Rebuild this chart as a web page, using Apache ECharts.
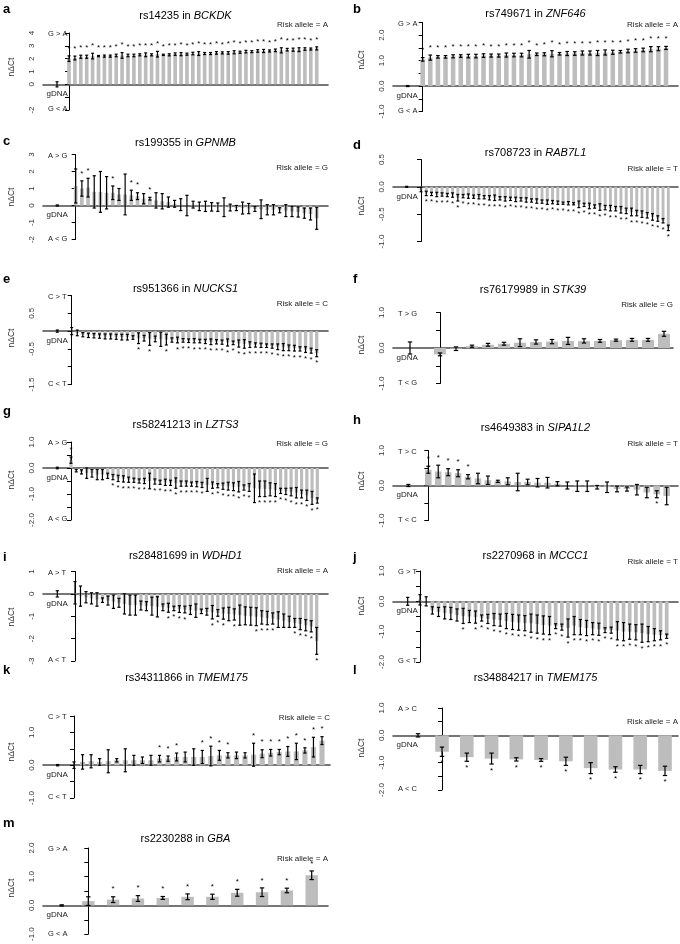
<!DOCTYPE html>
<html>
<head>
<meta charset="utf-8">
<script src="https://cdn.jsdelivr.net/npm/echarts@6/dist/echarts.min.js"></script>
<style>
  html, body { margin: 0; background: #fff; }
  #main { width: 680px; height: 944px; }
</style>
</head>
<body>
<div id="main"></div>
<script>
// ---- data: mean nΔCt, error half-width, significance flags (1 = *) ----
// gDNA control for each panel: [mean, error]
const aMean = [2.0,2.05,2.15,2.15,2.2, 2.2,2.2,2.2,2.25,2.25, 2.25,2.25,2.3,2.3,2.3, 2.35,2.3,2.3,2.35,2.35, 2.35,2.4,2.4,2.4,2.4, 2.45,2.45,2.45,2.5,2.5, 2.55,2.55,2.6,2.6,2.6, 2.65,2.65,2.7,2.7,2.7, 2.75,2.75,2.8];
const aErr = [0.22,0.15,0.12,0.12,0.22, 0.05,0.08,0.08,0.1,0.22, 0.1,0.1,0.08,0.15,0.08, 0.22,0.05,0.08,0.1,0.12, 0.08,0.1,0.15,0.08,0.08, 0.1,0.08,0.1,0.12,0.08, 0.1,0.08,0.1,0.12,0.08, 0.1,0.2,0.1,0.12,0.15, 0.1,0.08,0.12];
const aStar = "11111 11111 11111 11111 11111 11111 11111 11111 111";
const aGdna = [0, 0.2];
const aTicks = [4, 3, 2, 1, 0, -2];

const bMean = [1.05,1.12,1.15,1.15,1.17, 1.18,1.18,1.18,1.2,1.2, 1.2,1.22,1.22,1.22,1.25, 1.25,1.25,1.27,1.27,1.28, 1.28,1.3,1.3,1.3,1.32, 1.33,1.35,1.38,1.4,1.42, 1.45,1.47,1.5];
const bErr = [0.07,0.1,0.05,0.05,0.06, 0.05,0.07,0.07,0.07,0.06, 0.06,0.08,0.07,0.07,0.15, 0.05,0.06,0.12,0.05,0.08, 0.07,0.08,0.08,0.1,0.1, 0.08,0.05,0.07,0.07,0.07, 0.1,0.08,0.06];
const bStar = "11111 11111 11111 11111 11111 11111 111";
const bGdna = [0, 0.02];
const bTicks = [2, 1, 0, -1];

const cMean = [1.15,1.0,1.05,0.8,0.8, 0.75,0.75,0.65,0.65,0.6, 0.55,0.4,0.4,0.3,0.25, 0.2,0.1,0.05,0.0,0.05, -0.05,-0.05,-0.08,-0.1,-0.1, -0.12,-0.15,-0.15,-0.18,-0.2, -0.22,-0.25,-0.25,-0.28,-0.3, -0.35,-0.38,-0.45,-0.5,-0.75];
const cErr = [1.0,0.45,0.55,0.95,1.2, 0.95,0.4,0.35,1.2,0.3, 0.2,0.3,0.08,0.45,0.45, 0.3,0.2,0.35,0.6,0.2, 0.25,0.3,0.25,0.25,0.55, 0.2,0.15,0.35,0.3,0.15, 0.55,0.3,0.3,0.15,0.35, 0.3,0.3,0.3,0.35,0.65];
const cStar = "01100 01001 10100 00000 00000 00000 00000 00000";
const cGdna = [0, 0.03];
const cTicks = [3, 2, 1, 0, -1, -2];

const dMean = [-0.05,-0.12,-0.13,-0.14,-0.14, -0.15,-0.15,-0.2,-0.17,-0.17, -0.18,-0.18,-0.19,-0.2,-0.2, -0.21,-0.22,-0.22,-0.23,-0.23, -0.24,-0.25,-0.26,-0.27,-0.28, -0.28,-0.29,-0.3,-0.3,-0.31, -0.32,-0.33,-0.35,-0.36,-0.37, -0.38,-0.39,-0.4,-0.42,-0.44, -0.46,-0.48,-0.5,-0.52,-0.55, -0.58,-0.62,-0.75];
const dErr = [0.04,0.04,0.03,0.04,0.03, 0.03,0.04,0.06,0.03,0.04, 0.03,0.04,0.03,0.04,0.05, 0.03,0.04,0.03,0.04,0.03, 0.04,0.03,0.04,0.03,0.04, 0.03,0.03,0.02,0.03,0.02, 0.06,0.03,0.05,0.03,0.06, 0.04,0.05,0.04,0.06,0.05, 0.07,0.05,0.06,0.05,0.06, 0.05,0.04,0.05];
const dStar = "01111 11111 11111 11111 11111 11111 11111 11111 11111 111";
const dGdna = [0, 0.01];
const dTicks = [0.5, 0, -0.5, -1];

const eMean = [0.0,-0.05,-0.1,-0.12,-0.13, -0.14,-0.15,-0.15,-0.16,-0.17, -0.17,-0.18,-0.2,-0.2,-0.22, -0.22,-0.23,-0.24,-0.25,-0.25, -0.26,-0.27,-0.27,-0.28,-0.29, -0.3,-0.3,-0.31,-0.32,-0.33, -0.35,-0.36,-0.38,-0.39,-0.4, -0.41,-0.42,-0.44,-0.45,-0.47, -0.48,-0.5,-0.52,-0.55,-0.62];
const eErr = [0.1,0.08,0.06,0.06,0.06, 0.06,0.07,0.07,0.07,0.08, 0.08,0.05,0.15,0.08,0.18, 0.08,0.2,0.15,0.06,0.08, 0.05,0.05,0.06,0.05,0.06, 0.08,0.06,0.06,0.1,0.05, 0.1,0.12,0.08,0.06,0.06, 0.05,0.06,0.08,0.1,0.08, 0.08,0.06,0.08,0.07,0.1];
const eStar = "00000 00000 00101 00101 11111 11111 11111 11111 11111";
const eGdna = [0, 0.03];
const eTicks = [0.5, -0.5, -1.5];

const fMean = [-0.18,-0.02,0.05,0.09,0.12, 0.15,0.17,0.18,0.2,0.2, 0.2,0.22,0.23,0.23,0.4];
const fErr = [0.04,0.05,0.03,0.04,0.04, 0.11,0.06,0.06,0.1,0.06, 0.04,0.03,0.04,0.04,0.07];
const fStar = "00000 00000 00000";
const fGdna = [0, 0.17];
const fTicks = [1, 0, -1];

const gMean = [0.3,-0.1,-0.15,-0.2,-0.2, -0.25,-0.25,-0.3,-0.35,-0.4, -0.42,-0.45,-0.47,-0.5,-0.5, -0.5,-0.52,-0.55,-0.55,-0.57, -0.58,-0.6,-0.6,-0.62,-0.62, -0.65,-0.65,-0.66,-0.68,-0.7, -0.7,-0.72,-0.72,-0.75,-0.75, -0.78,-0.8,-0.8,-0.82,-0.85, -0.88,-0.9,-0.92,-0.95,-1.0, -1.05,-1.15,-1.25];
const gErr = [0.12,0.05,0.08,0.2,0.15, 0.2,0.2,0.1,0.1,0.12, 0.12,0.1,0.08,0.08,0.1, 0.3,0.1,0.08,0.12,0.1, 0.2,0.1,0.1,0.08,0.1, 0.1,0.25,0.12,0.08,0.12, 0.15,0.15,0.2,0.1,0.15, 0.55,0.3,0.3,0.25,0.25, 0.1,0.12,0.15,0.2,0.15, 0.2,0.25,0.1];
const gStar = "10000 00011 11111 01111 11111 10111 11111 01111 11111 111";
const gGdna = [0, 0.03];
const gTicks = [1, 0, -1, -2];

const hMean = [0.45,0.4,0.38,0.35,0.25, 0.2,0.15,0.12,0.12,0.1, 0.1,0.08,0.08,0.05,0.0, -0.02,-0.02,-0.05,-0.05,-0.1, -0.1,-0.12,-0.2,-0.25,-0.3];
const hErr = [0.1,0.18,0.1,0.1,0.06, 0.15,0.12,0.03,0.1,0.25, 0.08,0.12,0.15,0.06,0.1, 0.15,0.15,0.05,0.15,0.08, 0.06,0.15,0.15,0.1,0.25];
const hStar = "11111 00000 00000 00000 00010";
const hGdna = [0, 0.03];
const hTicks = [1, 0, -1];

const iMean = [0.05,-0.1,-0.15,-0.2,-0.25, -0.28,-0.3,-0.35,-0.4,-0.45, -0.5,-0.5,-0.52,-0.55,-0.55, -0.58,-0.6,-0.62,-0.65,-0.68, -0.7,-0.72,-0.75,-0.78,-0.8, -0.82,-0.85,-0.88,-0.9,-0.92, -0.95,-0.98,-1.0,-1.02,-1.05, -1.08,-1.1,-1.15,-1.2,-1.25, -1.3,-1.35,-1.4,-1.45,-2.1];
const iErr = [0.5,0.45,0.25,0.25,0.3, 0.1,0.2,0.3,0.2,0.45, 0.45,0.45,0.2,0.2,0.4, 0.45,0.15,0.2,0.1,0.15, 0.15,0.2,0.3,0.1,0.15, 0.3,0.15,0.25,0.3,0.25, 0.45,0.4,0.4,0.4,0.3, 0.3,0.25,0.35,0.3,0.25, 0.2,0.25,0.25,0.25,0.6];
const iStar = "00000 00000 00000 00111 10000 11101 00011 11000 11111";
const iGdna = [0, 0.14];
const iTicks = [1, 0, -1, -2, -3];

const jMean = [0.05,0.0,-0.3,-0.35,-0.38, -0.4,-0.45,-0.48,-0.5,-0.52, -0.55,-0.58,-0.6,-0.62,-0.65, -0.68,-0.7,-0.72,-0.72,-0.75, -0.78,-0.8,-0.82,-0.85,-0.88, -0.8,-0.85,-0.88,-0.9,-0.92, -0.95,-0.95,-0.97,-1.0,-1.0, -1.02,-1.05,-1.08,-1.1,-1.12, -1.15];
const jErr = [0.17,0.15,0.12,0.15,0.2, 0.2,0.2,0.25,0.2,0.2, 0.1,0.15,0.2,0.2,0.25, 0.25,0.25,0.25,0.3,0.3, 0.3,0.3,0.08,0.1,0.3, 0.3,0.25,0.25,0.2,0.2, 0.08,0.1,0.3,0.3,0.25, 0.25,0.3,0.25,0.2,0.15, 0.07];
const jStar = "00000 00101 11111 11111 11111 11111 11111 11111 1";
const jGdna = [0, 0.13];
const jTicks = [1, 0, -1, -2];

const kMean = [0.0,0.1,0.12,0.1,0.12, 0.15,0.15,0.15,0.15,0.15, 0.2,0.2,0.25,0.25,0.25, 0.25,0.28,0.3,0.3,0.3, 0.3,0.32,0.35,0.38,0.4, 0.42,0.42,0.45,0.55,0.75];
const kErr = [0.1,0.22,0.2,0.1,0.35, 0.05,0.35,0.15,0.1,0.15, 0.1,0.08,0.12,0.15,0.25, 0.2,0.3,0.15,0.08,0.1, 0.08,0.35,0.12,0.1,0.08, 0.15,0.25,0.08,0.3,0.12];
const kStar = "00000 00000 11100 11110 01111 11111";
const kGdna = [0, 0.02];
const kTicks = [1, 0, -1];

const lMean = [-0.6,-0.8,-0.85,-0.88,-0.9, -0.95,-1.2,-1.25,-1.25,-1.3];
const lErr = [0.17,0.15,0.2,0.06,0.05, 0.15,0.2,0.1,0.15,0.17];
const lStar = "11111 11111";
const lGdna = [0, 0.06];
const lTicks = [1, 0, -1, -2];

const mMean = [0.15,0.2,0.24,0.26,0.3, 0.3,0.44,0.46,0.52,1.05];
const mErr = [0.15,0.1,0.1,0.05,0.1, 0.09,0.12,0.15,0.08,0.15];
const mStar = "01111 11111";
const mGdna = [0, 0.02];
const mTicks = [2, 1, 0, -1];

// ---- panel descriptions ----
const panels = [
  { id: 'a', snp: 'rs14235', gene: 'BCKDK', risk: 'A', up: 'G > A', down: 'G < A', mean: aMean, err: aErr, star: aStar, gdna: aGdna, ticks: aTicks, min: -2, max: 4, step: 1, dec: 0 },
  { id: 'b', snp: 'rs749671', gene: 'ZNF646', risk: 'A', up: 'G > A', down: 'G < A', mean: bMean, err: bErr, star: bStar, gdna: bGdna, ticks: bTicks, min: -1, max: 2.5, step: 0.5, dec: 1 },
  { id: 'c', snp: 'rs199355', gene: 'GPNMB', risk: 'G', up: 'A > G', down: 'A < G', mean: cMean, err: cErr, star: cStar, gdna: cGdna, ticks: cTicks, min: -2, max: 3, step: 1, dec: 0 },
  { id: 'd', snp: 'rs708723', gene: 'RAB7L1', risk: 'T', up: '', down: '', mean: dMean, err: dErr, star: dStar, gdna: dGdna, ticks: dTicks, min: -1, max: 0.5, step: 0.5, dec: 1 },
  { id: 'e', snp: 'rs951366', gene: 'NUCKS1', risk: 'C', up: 'C > T', down: 'C < T', mean: eMean, err: eErr, star: eStar, gdna: eGdna, ticks: eTicks, min: -1.5, max: 1, step: 0.5, dec: 1 },
  { id: 'f', snp: 'rs76179989', gene: 'STK39', risk: 'G', up: 'T > G', down: 'T < G', mean: fMean, err: fErr, star: fStar, gdna: fGdna, ticks: fTicks, min: -1, max: 1, step: 0.5, dec: 1 },
  { id: 'g', snp: 'rs58241213', gene: 'LZTS3', risk: 'G', up: 'A > G', down: 'A < G', mean: gMean, err: gErr, star: gStar, gdna: gGdna, ticks: gTicks, min: -2, max: 1, step: 0.5, dec: 1 },
  { id: 'h', snp: 'rs4649383', gene: 'SIPA1L2', risk: 'T', up: 'T > C', down: 'T < C', mean: hMean, err: hErr, star: hStar, gdna: hGdna, ticks: hTicks, min: -1, max: 1, step: 0.5, dec: 1 },
  { id: 'i', snp: 'rs28481699', gene: 'WDHD1', risk: 'A', up: 'A > T', down: 'A < T', mean: iMean, err: iErr, star: iStar, gdna: iGdna, ticks: iTicks, min: -3, max: 1, step: 1, dec: 0 },
  { id: 'j', snp: 'rs2270968', gene: 'MCCC1', risk: 'T', up: 'G > T', down: 'G < T', mean: jMean, err: jErr, star: jStar, gdna: jGdna, ticks: jTicks, min: -2, max: 1, step: 0.5, dec: 1 },
  { id: 'k', snp: 'rs34311866', gene: 'TMEM175', risk: 'C', up: 'C > T', down: 'C < T', mean: kMean, err: kErr, star: kStar, gdna: kGdna, ticks: kTicks, min: -1, max: 1.5, step: 0.5, dec: 1 },
  { id: 'l', snp: 'rs34884217', gene: 'TMEM175', risk: 'A', up: 'A > C', down: 'A < C', mean: lMean, err: lErr, star: lStar, gdna: lGdna, ticks: lTicks, min: -2, max: 1, step: 0.5, dec: 1 },
  { id: 'm', snp: 'rs2230288', gene: 'GBA', risk: 'A', up: 'G > A', down: 'G < A', mean: mMean, err: mErr, star: mStar, gdna: mGdna, ticks: mTicks, min: -1, max: 2, step: 0.5, dec: 1 }
];

// ---- layout (pixels): plot box [left, top, right, bottom], gDNA x, first/last bar x ----
const layout = {
  a: { box: [43, 33, 328, 110], gx: 57, x0: 69, x1: 316.7, titleY: 16, riskY: 25, letterY: 9, yLab: 67, bar: 0.62, cap: 1.5 },
  b: { box: [393, 22.5, 678, 111.5], gx: 407.7, x0: 422.7, x1: 666, titleY: 14, riskY: 25, letterY: 9, yLab: 60, bar: 0.6, cap: 1.8 },
  c: { box: [43, 154.5, 328, 239.5], gx: 57.3, x0: 75.7, x1: 316.7, titleY: 143, riskY: 168, letterY: 141, yLab: 197, bar: 0.6, cap: 1.6 },
  d: { box: [393, 159.5, 678, 241.5], gx: 406.7, x0: 421, x1: 668.3, titleY: 153, riskY: 169, letterY: 145, yLab: 206, bar: 0.55, cap: 1.5 },
  e: { box: [43, 295.5, 328, 384.5], gx: 57.3, x0: 71.7, x1: 316.7, titleY: 289, riskY: 304, letterY: 279, yLab: 338, bar: 0.6, cap: 1.5 },
  f: { box: [393, 312.5, 673, 383.5], gx: 410, x0: 440, x1: 664, titleY: 290, riskY: 305, letterY: 279, yLab: 345, bar: 0.75, cap: 2.2 },
  g: { box: [43, 442, 328, 520], gx: 57.3, x0: 71, x1: 317.3, titleY: 425, riskY: 444, letterY: 411, yLab: 480, bar: 0.6, cap: 1.5 },
  h: { box: [393, 450.5, 678, 520.5], gx: 408.3, x0: 428.3, x1: 666.7, titleY: 428, riskY: 444, letterY: 420, yLab: 481, bar: 0.66, cap: 2 },
  i: { box: [43, 571.5, 328, 661], gx: 57.3, x0: 75, x1: 316.7, titleY: 556, riskY: 571, letterY: 557, yLab: 617, bar: 0.6, cap: 1.6 },
  j: { box: [393, 571, 678, 662], gx: 407.7, x0: 420, x1: 666.7, titleY: 556, riskY: 562, letterY: 557, yLab: 606, bar: 0.6, cap: 1.6 },
  k: { box: [43, 716, 330, 798], gx: 57.6, x0: 74, x1: 322, titleY: 678, riskY: 718, letterY: 670, yLab: 752, bar: 0.6, cap: 1.6 },
  l: { box: [393, 708, 678, 790], gx: 418, x0: 442, x1: 665, titleY: 678, riskY: 722, letterY: 670, yLab: 748, bar: 0.55, cap: 2.2 },
  m: { box: [43, 848, 328, 934.5], gx: 61.7, x0: 88.3, x1: 311.7, titleY: 839, riskY: 859, letterY: 823, yLab: 888, bar: 0.5, cap: 2.2 }
};

const FONT = '"Liberation Sans", Arial, sans-serif';

function makeRender(barFrac, cap) {
  return function (params, api) {
    const x = api.value(0), m = api.value(1), e = api.value(2);
    const star = api.value(3), isG = api.value(4);
    const slot = api.size([1, 0])[0];
    const base = api.coord([x, 0]);
    const top = api.coord([x, m]);
    const hi = api.coord([x, m + e]);
    const lo = api.coord([x, m - e]);
    const kids = [];
    if (!isG) {
      const w = slot * barFrac;
      kids.push({ type: 'rect', shape: { x: base[0] - w / 2, y: Math.min(base[1], top[1]), width: w, height: Math.abs(top[1] - base[1]) },
        style: { fill: '#bdbdbd' } });
    }
    const ls = { stroke: '#000', lineWidth: 1.2 };
    kids.push({ type: 'line', shape: { x1: hi[0], y1: hi[1], x2: lo[0], y2: lo[1] }, style: ls });
    kids.push({ type: 'line', shape: { x1: hi[0] - cap, y1: hi[1], x2: hi[0] + cap, y2: hi[1] }, style: ls });
    kids.push({ type: 'line', shape: { x1: lo[0] - cap, y1: lo[1], x2: lo[0] + cap, y2: lo[1] }, style: ls });
    if (star) {
      const sy = m >= 0 ? hi[1] - 7.5 : lo[1] + 6.5;
      kids.push({ type: 'text', style: { text: '*', x: hi[0], y: sy, align: 'center', verticalAlign: 'middle',
        font: '8px ' + FONT, fill: '#000' } });
    }
    return { type: 'group', children: kids };
  };
}

const grid = [], xAxis = [], yAxis = [], series = [], graphic = [];

panels.forEach((p, k) => {
  const L = layout[p.id];
  const [left, top, right, bottom] = L.box;
  const n = p.mean.length;
  const slot = (L.x1 - L.x0) / (n - 1);
  const flags = p.star.replace(/ /g, '');
  grid.push({ left: left, top: top, width: right - left, height: bottom - top });
  xAxis.push({
    gridIndex: k, type: 'value',
    min: -(L.x0 - left) / slot, max: n - 1 + (right - L.x1) / slot,
    axisLine: { show: true, onZero: true, lineStyle: { color: '#4a4a4a', width: 1.6 } },
    axisTick: { show: false }, axisLabel: { show: false }, splitLine: { show: false }
  });
  yAxis.push({
    gridIndex: k, type: 'value', min: p.min, max: p.max, interval: p.step,
    axisLine: { show: true, lineStyle: { color: '#000', width: 1 } },
    axisTick: { show: true, length: 4, lineStyle: { color: '#000', width: 1 } },
    axisLabel: {
      rotate: 90, margin: 7, fontSize: 8, fontFamily: FONT, color: '#333',
      formatter: v => p.ticks.some(t => Math.abs(t - v) < 1e-9) ? v.toFixed(p.dec) : ''
    },
    splitLine: { show: false }
  });
  const data = [[-(L.x0 - L.gx) / slot, p.gdna[0], p.gdna[1], 0, 1]]
    .concat(p.mean.map((v, i) => [i, v, p.err[i], flags[i] === '1' ? 1 : 0, 0]));
  series.push({
    type: 'custom', xAxisIndex: k, yAxisIndex: k, data: data,
    encode: { x: 0, y: 1 }, renderItem: makeRender(L.bar, L.cap), silent: true
  });

  const zeroY = top + (p.max / (p.max - p.min)) * (bottom - top);
  graphic.push({ type: 'text', x: left - 40, y: L.letterY, style: { text: p.id, font: 'bold 13px ' + FONT, fill: '#000', textVerticalAlign: 'middle' } });
  graphic.push({ type: 'text', x: left - 31, y: L.yLab, rotation: Math.PI / 2, style: { text: 'nΔCt', font: '8.5px ' + FONT, fill: '#333', textAlign: 'center', textVerticalAlign: 'middle' } });
  graphic.push({ type: 'text', x: (left + right) / 2, y: L.titleY, style: {
    text: '{n|' + p.snp + ' in }{i|' + p.gene + '}', textAlign: 'center', textVerticalAlign: 'middle',
    rich: { n: { fontFamily: FONT, fontSize: 11, color: '#111' }, i: { fontFamily: FONT, fontSize: 11, fontStyle: 'italic', color: '#111' } } } });
  graphic.push({ type: 'text', x: right, y: L.riskY, style: { text: 'Risk allele = ' + p.risk, font: '8px ' + FONT, fill: '#222', textAlign: 'right', textVerticalAlign: 'middle' } });
  if (p.up) {
    graphic.push({ type: 'text', x: left + 5, y: top + 1, style: { text: p.up, font: '7.5px ' + FONT, fill: '#222', textVerticalAlign: 'middle' } });
    graphic.push({ type: 'text', x: left + 5, y: bottom - 1, style: { text: p.down, font: '7.5px ' + FONT, fill: '#222', textVerticalAlign: 'middle' } });
  }
  graphic.push({ type: 'text', x: left + 3.5, y: zeroY + 9.5, style: { text: 'gDNA', font: '8px ' + FONT, fill: '#222', textVerticalAlign: 'middle' } });
});

const chart = echarts.init(document.getElementById('main'), null, { renderer: 'canvas' });
chart.setOption({
  backgroundColor: '#fff',
  animation: false,
  grid: grid, xAxis: xAxis, yAxis: yAxis, series: series, graphic: graphic
});
</script>
</body>
</html>
